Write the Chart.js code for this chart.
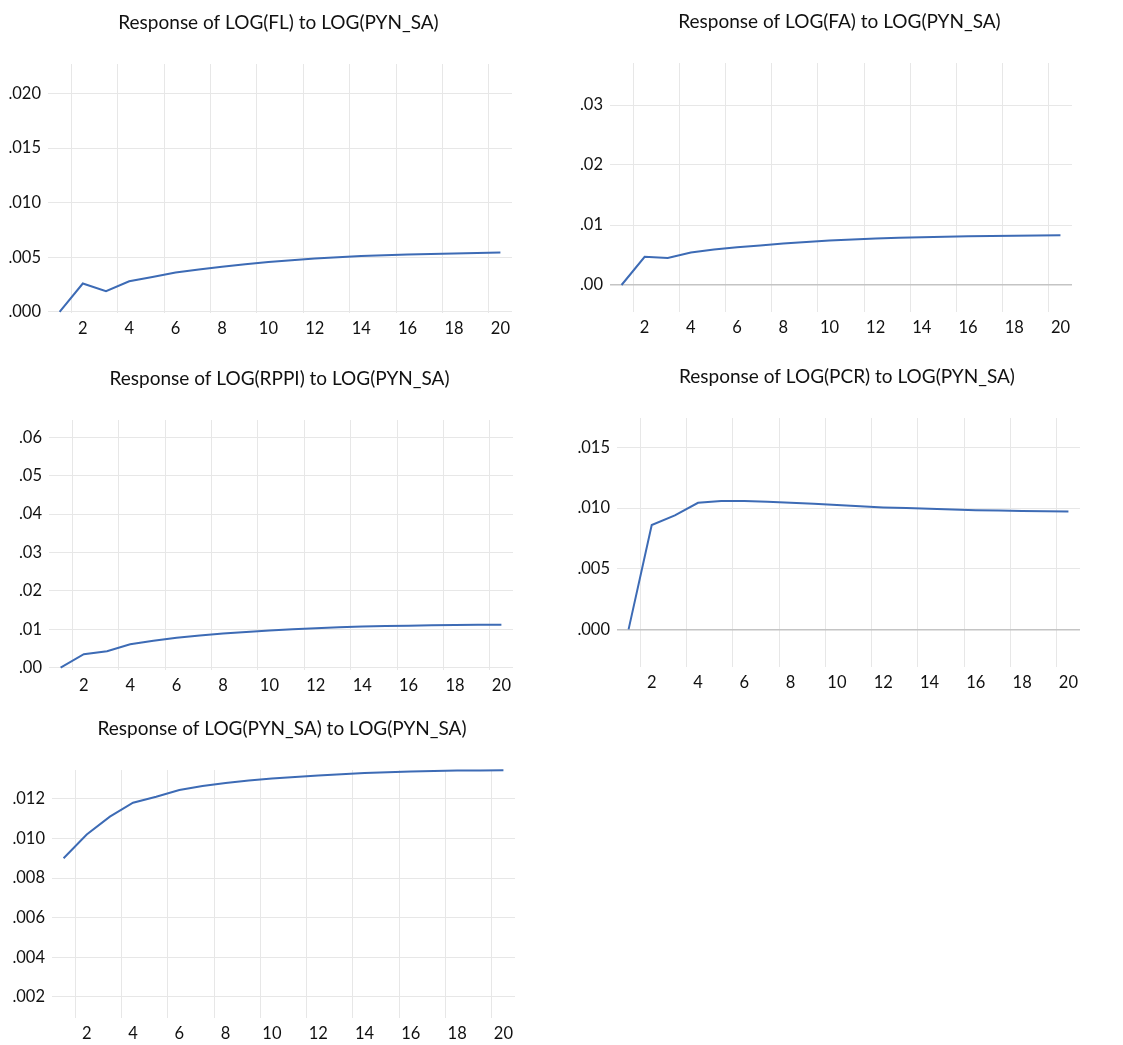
<!DOCTYPE html>
<html>
<head>
<meta charset="utf-8">
<script src="https://cdn.jsdelivr.net/npm/chart.js@4.4.4/dist/chart.umd.min.js"></script>
<style>
  html, body { margin: 0; padding: 0; background: #fff; }
  #wrap { position: relative; width: 1123px; height: 1045px; }
  canvas { position: absolute; }
</style>
</head>
<body>
<div id="wrap">
  <canvas id="p1" width="550" height="345" style="left:0;top:0"></canvas>
  <canvas id="p2" width="550" height="345" style="left:560px;top:0"></canvas>
  <canvas id="p3" width="550" height="360" style="left:0;top:350px"></canvas>
  <canvas id="p4" width="550" height="360" style="left:560px;top:350px"></canvas>
  <canvas id="p5" width="550" height="335" style="left:0;top:710px"></canvas>
</div>
<script>
const periods = [1, 2, 3, 4, 5, 6, 7, 8, 9, 10, 11, 12, 13, 14, 15, 16, 17, 18, 19, 20];
const xTickLabels = [2, 4, 6, 8, 10, 12, 14, 16, 18, 20];
const xGridLines = [1.5, 3.5, 5.5, 7.5, 9.5, 11.5, 13.5, 15.5, 17.5, 19.5];

const titles = [
  "Response of LOG(FL) to LOG(PYN_SA)",
  "Response of LOG(FA) to LOG(PYN_SA)",
  "Response of LOG(RPPI) to LOG(PYN_SA)",
  "Response of LOG(PCR) to LOG(PYN_SA)",
  "Response of LOG(PYN_SA) to LOG(PYN_SA)",
];

const flResponse = [0, 0.0026, 0.0019, 0.0028, 0.0032, 0.0036, 0.00388, 0.00414, 0.00437, 0.00457,
  0.00474, 0.00489, 0.00501, 0.00511, 0.00519, 0.00525, 0.0053, 0.00535, 0.00539, 0.00543];
const faResponse = [0, 0.0047, 0.0045, 0.0054, 0.0059, 0.0063, 0.0066, 0.0069, 0.00715, 0.0074,
  0.0076, 0.00775, 0.00787, 0.00797, 0.00805, 0.00812, 0.00818, 0.00822, 0.00826, 0.00829];
const rppiResponse = [0, 0.0035, 0.0043, 0.0061, 0.0070, 0.0078, 0.0084, 0.0089, 0.0093, 0.0097,
  0.0100, 0.0103, 0.01052, 0.0107, 0.01083, 0.01094, 0.01103, 0.0111, 0.01116, 0.0112];
const pcrResponse = [0, 0.0086, 0.0094, 0.01044, 0.01058, 0.01058, 0.01053, 0.01045, 0.01035, 0.01025,
  0.01015, 0.01006, 0.0100, 0.00994, 0.00988, 0.00983, 0.0098, 0.00977, 0.00974, 0.00972];
const pynResponse = [0.0090, 0.0102, 0.0111, 0.0118, 0.0121, 0.01244, 0.01264, 0.0128, 0.01292, 0.01302,
  0.0131, 0.01317, 0.01324, 0.0133, 0.01334, 0.01337, 0.0134, 0.01342, 0.01343, 0.01344];

const flTicks = [0, 0.005, 0.010, 0.015, 0.020];
const faTicks = [0, 0.01, 0.02, 0.03];
const rppiTicks = [0, 0.01, 0.02, 0.03, 0.04, 0.05, 0.06];
const pcrTicks = [0, 0.005, 0.010, 0.015];
const pynTicks = [0.002, 0.004, 0.006, 0.008, 0.010, 0.012];

const LINE = "#3d6bb5";
const GRID = "#e7e7e7";
const ZERO = "#c4c4c4";
const FONT = "Lato, 'Liberation Sans', sans-serif";

// draws the panel heading centred over the plot
const titlePlugin = {
  id: "panelTitle",
  afterDraw(chart, args, opts) {
    const { ctx, chartArea } = chart;
    ctx.save();
    ctx.font = "19px " + FONT;
    ctx.fillStyle = "#111";
    ctx.textAlign = "center";
    ctx.textBaseline = "alphabetic";
    ctx.fillText(opts.text, (chartArea.left + chartArea.right) / 2 - 1.5, chartArea.top - 35.5);
    ctx.restore();
  },
};

function fmt(v, digits) {
  return v.toFixed(digits).replace(/^0/, "");
}

function makePanel(id, title, values, yTicks, yMin, yMax, digits, box, zeroLine) {
  const el = document.getElementById(id);
  const data = periods.map((p, i) => ({ x: p, y: values[i] }));
  return new Chart(el, {
    type: "line",
    data: {
      datasets: [{
        data,
        borderColor: LINE,
        borderWidth: 2,
        pointRadius: 0,
        tension: 0,
        clip: false,
      }],
    },
    options: {
      responsive: false,
      animation: false,
      events: [],
      layout: { padding: { left: 0, top: box.top, right: el.width - box.right, bottom: 0 } },
      plugins: {
        legend: { display: false },
        tooltip: { enabled: false },
        panelTitle: { text: title },
      },
      scales: {
        x: {
          type: "linear",
          position: "bottom",
          min: 0.5,
          max: 20.5,
          afterBuildTicks: (s) => { s.ticks = xTickLabels.map((v) => ({ value: v })); },
          afterFit: (s) => { s.height = el.height - box.bottom; },
          grid: { display: false, drawTicks: false },
          border: { display: false },
          ticks: { color: "#111", font: { size: 16.5, family: FONT }, padding: 6, maxRotation: 0, autoSkip: false },
        },
        xg: {
          type: "linear",
          position: "bottom",
          min: 0.5,
          max: 20.5,
          afterBuildTicks: (s) => { s.ticks = xGridLines.map((v) => ({ value: v })); },
          afterFit: (s) => { s.height = 0; },
          grid: { color: GRID, lineWidth: 1, drawTicks: false },
          border: { display: false },
          ticks: { display: false },
        },
        y: {
          min: yMin,
          max: yMax,
          afterBuildTicks: (s) => { s.ticks = yTicks.map((v) => ({ value: v })); },
          afterFit: (s) => { s.width = box.left; },
          grid: {
            drawTicks: false,
            color: (c) => (zeroLine && c.tick && c.tick.value === 0 ? ZERO : GRID),
            lineWidth: (c) => (zeroLine && c.tick && c.tick.value === 0 ? 1.5 : 1),
          },
          border: { display: false },
          ticks: {
            color: "#111",
            font: { size: 16.5, family: FONT },
            padding: 7,
            callback: (v) => fmt(v, digits),
          },
        },
      },
    },
    plugins: [titlePlugin],
  });
}

makePanel("p1", titles[0], flResponse, flTicks, -0.0001, 0.0227, 3,
  { left: 48, right: 512, top: 64, bottom: 313 }, false);
makePanel("p2", titles[1], faResponse, faTicks, -0.0045, 0.037, 2,
  { left: 50, right: 512, top: 63, bottom: 312 }, true);
makePanel("p3", titles[2], rppiResponse, rppiTicks, -0.0006, 0.0645, 2,
  { left: 49, right: 513, top: 70, bottom: 320 }, false);
makePanel("p4", titles[3], pcrResponse, pcrTicks, -0.0031, 0.01743, 3,
  { left: 57, right: 520, top: 68, bottom: 317 }, true);
makePanel("p5", titles[4], pynResponse, pynTicks, 0.00094, 0.01345, 3,
  { left: 52, right: 515, top: 60, bottom: 308 }, false);
</script>
</body>
</html>
